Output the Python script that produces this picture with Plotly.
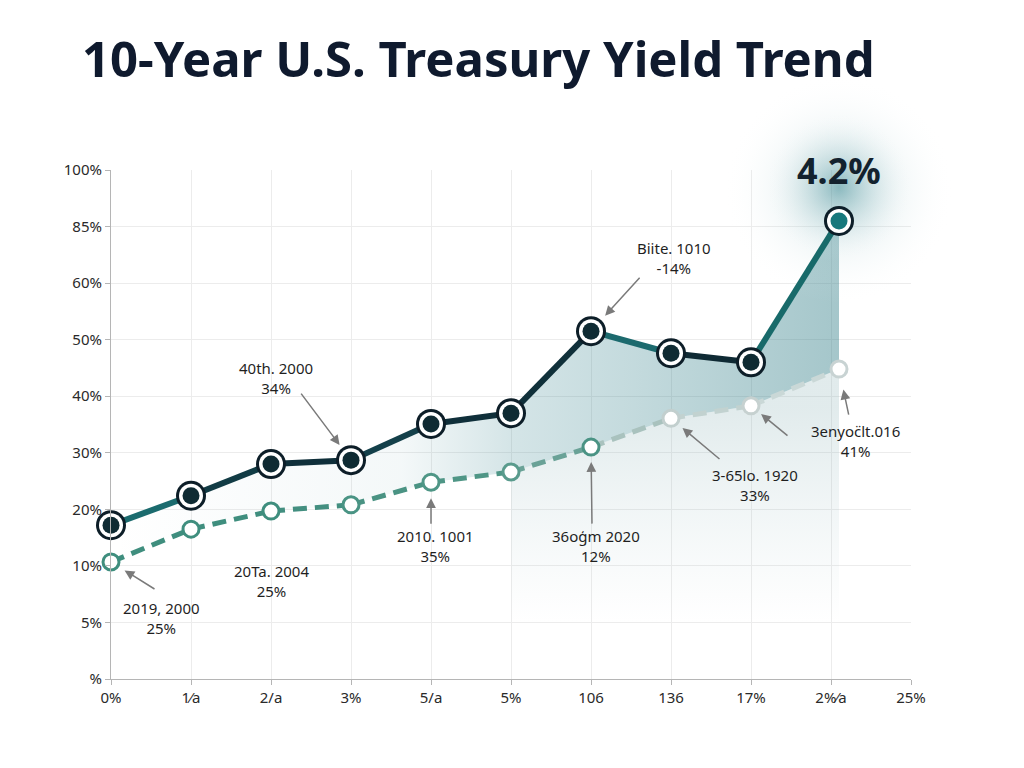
import plotly.graph_objects as go

# ---------------- data ----------------
x_pos = [0, 1, 2, 3, 4, 5, 6, 7, 8, 9.1]
dark_vals = [2.72, 3.24, 3.80, 3.87, 4.51, 4.70, 6.15, 5.76, 5.60, 8.10]
light_vals = [2.07, 2.65, 2.97, 3.08, 3.48, 3.66, 4.10, 4.61, 4.83, 5.48]

y_tickvals = [0, 1, 2, 3, 4, 5, 6, 7, 8, 9]
y_ticktext = ["%", "5%", "10%", "20%", "30%", "40%", "50%", "60%", "85%", "100%"]
x_tickvals = [0, 1, 2, 3, 4, 5, 6, 7, 8, 9, 10]
x_ticktext = ["0%", "1⁄a", "2/a", "3%", "5/a", "5%", "106", "136", "17%", "2%⁄a", "25%"]

title_text = "10-Year U.S. Treasury Yield Trend"
peak_label = "4.2%"

# label texts with their positions (axis units)
labels = [
    ("2019, 2000<br>25%", 0.63, 1.08),
    ("20Ta. 2004<br>25%", 2.01, 1.74),
    ("40th. 2000<br>34%", 2.06, 5.32),
    ("2010. 1001<br>35%", 4.06, 2.35),
    ("36oģm 2020<br>12%", 6.06, 2.35),
    ("Biite. 1010<br>-14%", 7.04, 7.45),
    ("3-65lo. 1920<br>33%", 8.05, 3.43),
    ("3enyoc̈lt.016<br>41%", 9.3, 4.21),
]
# arrows: (series, index, ax, ay, standoff)
arrows = [
    ("light", 0, 45, 28, 16),
    ("dark", 3, -51, -68, 19),
    ("light", 4, 0, 43, 16),
    ("light", 6, 1, 78, 15),
    ("dark", 6, 50, -55, 21),
    ("light", 7, 50, 42, 15),
    ("light", 8, 38, 31, 13),
    ("light", 9, 10, 47, 21),
]

# ---------------- styles ----------------
dark_seg_colors = ["#1b6b6e", "#123c45", "#0f2f3a", "#14404a", "#0f2f3a",
                   "#10303a", "#1c6a6e", "#0f2a34", "#186a6a"]
light_seg_colors = ["#3f8e7e", "#3f8e7e", "#438f80", "#4a9383", "#4f9686",
                    "#6aa297", "#a9c2be", "#c2d2d0", "#cad8d7"]
light_marker_colors = ["#3f8e7e", "#3f8e7e", "#3f8e7e", "#4a9484", "#4f9686",
                       "#5a9b8d", "#4a9384", "#c2cfce", "#c6d1d0", "#c8d3d3"]
dark_inner_colors = ["#0f2b33"] * 9 + ["#17787c"]

fig = go.Figure()

# fill between light and dark lines
fig.add_trace(go.Scatter(x=x_pos, y=light_vals, mode="lines",
                         line=dict(width=0, color="rgba(0,0,0,0)"),
                         hoverinfo="skip", showlegend=False))
fig.add_trace(go.Scatter(x=x_pos, y=dark_vals, mode="lines",
                         line=dict(width=0, color="rgba(0,0,0,0)"),
                         fill="tonexty",
                         fillgradient=dict(type="horizontal",
                                           colorscale=[[0, "rgba(70,140,150,0.0)"],
                                                       [0.4, "rgba(70,140,150,0.06)"],
                                                       [0.55, "rgba(60,135,145,0.22)"],
                                                       [1, "rgba(40,120,130,0.42)"]]),
                         hoverinfo="skip", showlegend=False))
# faint fill under the light line on the right part
fig.add_trace(go.Scatter(x=x_pos[5:], y=light_vals[5:], mode="lines",
                         line=dict(width=0, color="rgba(0,0,0,0)"),
                         fill="tozeroy",
                         fillgradient=dict(type="vertical", start=1.0, stop=4.8,
                                           colorscale=[[0, "rgba(150,185,190,0.0)"],
                                                       [1, "rgba(120,165,170,0.22)"]]),
                         hoverinfo="skip", showlegend=False))

# glow around peak (two soft layers)
fig.add_trace(go.Scatter(x=[x_pos[-1]], y=[dark_vals[-1] + 0.55], mode="markers",
                         marker=dict(size=230, color="rgba(255,255,255,0)",
                                     gradient=dict(type="radial", color="rgba(60,140,150,0.28)"),
                                     line=dict(width=0)),
                         hoverinfo="skip", showlegend=False, cliponaxis=False))
fig.add_trace(go.Scatter(x=[x_pos[-1]], y=[dark_vals[-1] + 0.6], mode="markers",
                         marker=dict(size=150, color="rgba(255,255,255,0)",
                                     gradient=dict(type="radial", color="rgba(45,128,138,0.40)"),
                                     line=dict(width=0)),
                         hoverinfo="skip", showlegend=False, cliponaxis=False))

# light dashed series
for i in range(len(x_pos) - 1):
    fig.add_trace(go.Scatter(x=x_pos[i:i + 2], y=light_vals[i:i + 2], mode="lines",
                             line=dict(color=light_seg_colors[i], width=5, dash="14px,8px"),
                             hoverinfo="skip", showlegend=False))
fig.add_trace(go.Scatter(x=x_pos, y=light_vals, mode="markers",
                         marker=dict(size=16, color="white",
                                     line=dict(width=3, color=light_marker_colors)),
                         showlegend=False, cliponaxis=False))

# dark series
for i in range(len(x_pos) - 1):
    fig.add_trace(go.Scatter(x=x_pos[i:i + 2], y=dark_vals[i:i + 2], mode="lines",
                             line=dict(color=dark_seg_colors[i], width=6),
                             hoverinfo="skip", showlegend=False))
fig.add_trace(go.Scatter(x=x_pos, y=dark_vals, mode="markers",
                         marker=dict(size=30, color="#0d1e28", line=dict(width=0)),
                         showlegend=False, cliponaxis=False, hoverinfo="skip"))
fig.add_trace(go.Scatter(x=x_pos, y=dark_vals, mode="markers",
                         marker=dict(size=24, color="white", line=dict(width=0)),
                         showlegend=False, cliponaxis=False, hoverinfo="skip"))
fig.add_trace(go.Scatter(x=x_pos, y=dark_vals, mode="markers",
                         marker=dict(size=17, color=dark_inner_colors, line=dict(width=0)),
                         showlegend=False, cliponaxis=False))

annotations = []
for txt, lx, ly in labels:
    annotations.append(dict(x=lx, y=ly, xref="x", yref="y", text=txt, showarrow=False,
                            font=dict(family="Noto Sans", size=15, color="#1f1f1f"),
                            align="center", xanchor="center", yanchor="middle"))
for series, idx, ax, ay, so in arrows:
    yy = dark_vals[idx] if series == "dark" else light_vals[idx]
    annotations.append(dict(x=x_pos[idx], y=yy, xref="x", yref="y", text="",
                            showarrow=True, ax=ax, ay=ay, standoff=so,
                            arrowhead=2, arrowsize=1.3, arrowwidth=1.5,
                            arrowcolor="#7a7a7a"))
annotations.append(dict(x=x_pos[-1], y=dark_vals[-1], xref="x", yref="y",
                        text="<b>" + peak_label + "</b>", showarrow=False,
                        yshift=50, font=dict(family="Noto Sans", size=36, color="#13222e")))

fig.update_layout(
    width=1024, height=768,
    paper_bgcolor="white", plot_bgcolor="white",
    margin=dict(l=111, r=113, t=170, b=89),
    title=dict(text="<b>" + title_text + "</b>", x=82 / 1024, xanchor="left",
               y=1 - 60 / 768, yanchor="middle",
               font=dict(family="Noto Sans", size=49, color="#0f1a2e")),
    xaxis=dict(range=[0, 10], tickvals=x_tickvals, ticktext=x_ticktext,
               showgrid=True, gridcolor="#ececec", gridwidth=1,
               showline=True, linecolor="#b5b5b5", linewidth=1,
               ticks="outside", ticklen=5, tickcolor="#b5b5b5",
               tickfont=dict(family="Noto Sans", size=15, color="#2a2a2a"),
               zeroline=False, fixedrange=True),
    yaxis=dict(range=[0, 9], tickvals=y_tickvals, ticktext=y_ticktext,
               showgrid=True, gridcolor="#ececec", gridwidth=1,
               showline=True, linecolor="#b5b5b5", linewidth=1,
               ticks="outside", ticklen=5, tickcolor="#b5b5b5",
               tickfont=dict(family="Noto Sans", size=15, color="#2a2a2a"),
               zeroline=False, fixedrange=True),
    annotations=annotations,
    showlegend=False,
)

fig.write_html("out.html")
